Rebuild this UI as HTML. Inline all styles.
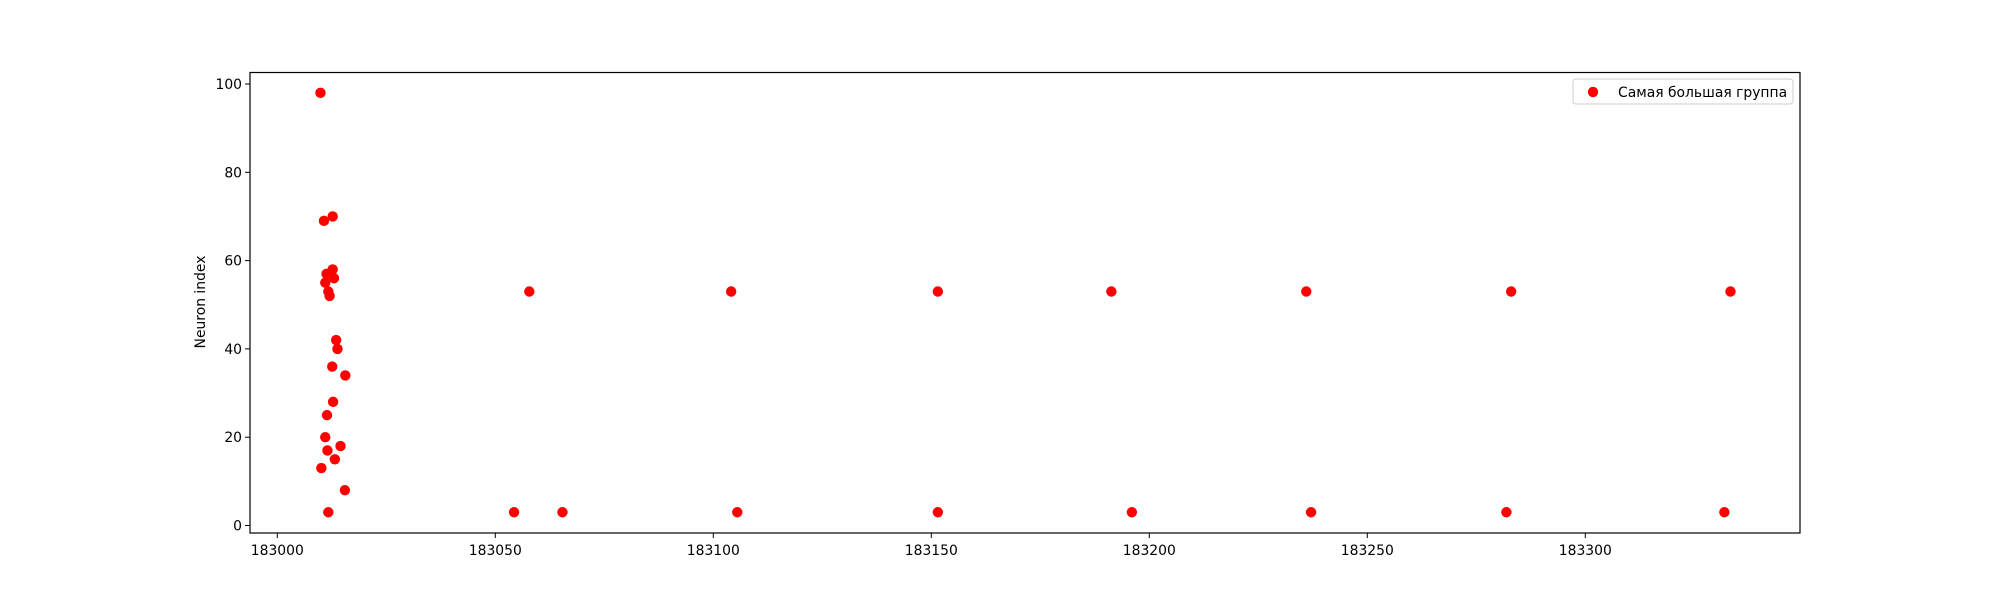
<!DOCTYPE html>
<html><head><meta charset="utf-8"><style>
body{margin:0;background:#fff}
svg{display:block;font-family:"DejaVu Sans","Liberation Sans",sans-serif}
</style></head><body>
<svg id="chart" width="2000" height="600" viewBox="0 0 2000 600" xmlns="http://www.w3.org/2000/svg">
<rect width="2000" height="600" fill="#fff"/>
<g id="plot"></g>
</svg>
<script>
const xValues = [183009.9,183010.7,183012.7,183011.3,183012.7,183011,183013,183011.7,183012,183013.5,183013.8,183012.6,183015.6,183012.8,183011.4,183011,183011.5,183014.5,183013.2,183010.1,183015.5,183011.7,
183057.8,183104.1,183151.5,183191.3,183236,183283,183333.3,
183054.3,183065.4,183105.5,183151.5,183196,183237.1,183281.9,183331.9];
const yValues = [98,69,70,57,58,55,56,53,52,42,40,36,34,28,25,20,17,18,15,13,8,3,
53,53,53,53,53,53,53,
3,3,3,3,3,3,3,3];
const xTicks = [183000,183050,183100,183150,183200,183250,183300];
const yTicks = [0,20,40,60,80,100];

const L=250,R=1800,T=72.5,B=533;
const X=v=>277.3+(v-183000)*4.36;
const Y=v=>525.5-v*4.415;
const NS="http://www.w3.org/2000/svg";
const g=document.getElementById('plot');
function mk(t,a){const e=document.createElementNS(NS,t);for(const k in a)e.setAttribute(k,a[k]);g.appendChild(e);return e;}

for(let i=0;i<xValues.length;i++){
  const c=mk('circle',{cx:X(xValues[i]),cy:Y(yValues[i]),r:5.2,fill:'#ff0000'});
  
  
}
const fr=mk('rect',{x:L,y:T,width:R-L,height:B-T,fill:'none',stroke:'#000','stroke-width':1.2});



xTicks.forEach(v=>{
  const l=mk('line',{x1:X(v),x2:X(v),y1:B,y2:B+5,stroke:'#000','stroke-width':1});
  
  
  const t=mk('text',{x:X(v),y:B+22,'text-anchor':'middle','font-size':13.9,fill:'#000'});
  t.textContent=v;
  
  
});
yTicks.forEach(v=>{
  const l=mk('line',{x1:L-5,x2:L,y1:Y(v),y2:Y(v),stroke:'#000','stroke-width':1});
  
  
  const t=mk('text',{x:L-8,y:Y(v)+5,'text-anchor':'end','font-size':13.9,fill:'#000'});
  t.textContent=v;
  
  
});
const yl=mk('text',{x:0,y:0,transform:'translate(205,302) rotate(-90)','text-anchor':'middle','font-size':13.9,fill:'#000'});
yl.textContent='Neuron index';



const lg=mk('rect',{x:1573,y:79,width:220,height:25,rx:3,fill:'#fff',stroke:'#ccc','stroke-width':1});


const lm=mk('circle',{cx:1593,cy:92,r:5.2,fill:'#ff0000'});


const lt=mk('text',{x:1618,y:97,'font-size':13.9,fill:'#000'});
lt.textContent='Самая большая группа';


</script>
</body></html>
